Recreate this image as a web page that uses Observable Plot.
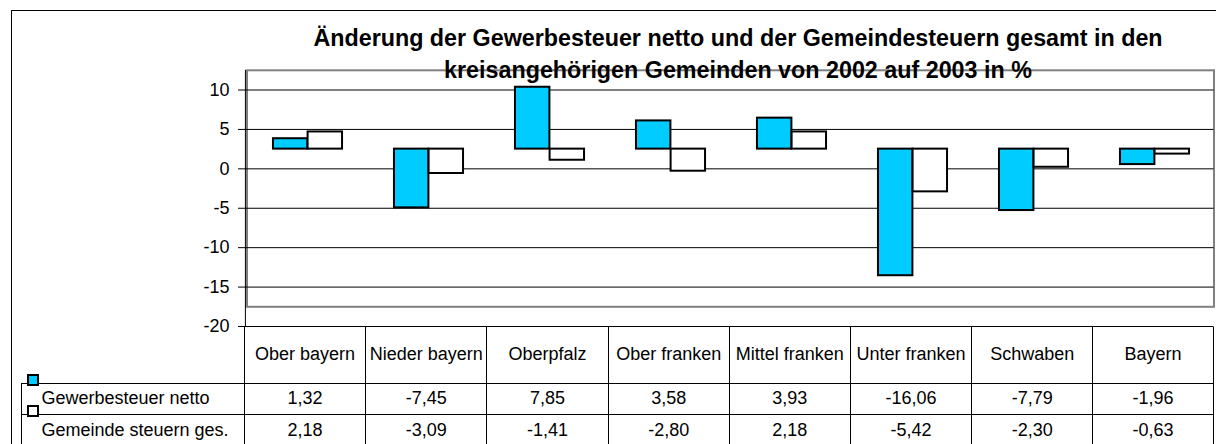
<!DOCTYPE html>
<html><head><meta charset="utf-8">
<script src="https://cdn.jsdelivr.net/npm/d3@7"></script>
<script src="https://cdn.jsdelivr.net/npm/@observablehq/plot@0.6"></script>
<style>
body{margin:0;background:#fff;}
#wrap{position:relative;width:1216px;height:444px;overflow:hidden;background:#fff;font-family:Arial,"Liberation Sans",sans-serif;color:#000;}
#chart{position:absolute;left:0;top:0;}
#border{position:absolute;left:11px;top:10px;width:1400px;height:600px;border-top:1px solid #000;border-left:1px solid #000;pointer-events:none;}
.title{position:absolute;left:738px;transform:translateX(-50%);white-space:nowrap;font-weight:bold;font-size:23.3px;line-height:23.3px;}
#table{position:absolute;left:20.5px;top:326.5px;display:grid;font-size:18px;}
#table div.cell{box-sizing:border-box;display:flex;align-items:center;justify-content:center;white-space:nowrap;position:relative;}
#table div.lab{justify-content:flex-start;padding-left:20px;}
.key{position:absolute;left:5.5px;top:-10px;width:12px;height:12px;box-sizing:border-box;border:2px solid #000;}
</style></head><body>
<div id="wrap">
  <div id="chart"></div>
  <div class="title" style="top:27px">Änderung der Gewerbesteuer netto und der Gemeindesteuern gesamt in den</div>
  <div class="title" style="top:59.3px">kreisangehörigen Gemeinden von 2002 auf 2003 in %</div>
  <div id="table"></div>
  <div id="border"></div>
</div>
<script>
const categories = ["Ober bayern", "Nieder bayern", "Oberpfalz", "Ober franken", "Mittel franken", "Unter franken", "Schwaben", "Bayern"];
const seriesNames = ["Gewerbesteuer netto", "Gemeinde steuern ges."];
const gewerbesteuer = [1.32, -7.45, 7.85, 3.58, 3.93, -16.06, -7.79, -1.96];
const gemeindesteuern = [2.18, -3.09, -1.41, -2.80, 2.18, -5.42, -2.30, -0.63];
const yTicks = [10, 5, 0, -5, -10, -15, -20];
const seriesColors = ["#00CCFF", "#FFFFFF"];

const W = 1216, H = 340, mL = 244, mR = 2.5, mT = 69.8, mB = 14;
const yDomain = [-20, 12.5];
const barBaseline = 2.5;           // the bars are drawn from this offset, as in the original
const bw = (W - mL - mR) / categories.length;
const barW = bw / 3.5, outer = barW * 0.75, shift = 2;
const unit = (H - mT - mB) / (yDomain[1] - yDomain[0]);

const rows = categories.map((c, i) => ({category: c, a: gewerbesteuer[i], b: gemeindesteuern[i]}));

const chart = Plot.plot({
  width: W, height: H,
  marginLeft: mL, marginRight: mR, marginTop: mT, marginBottom: mB,
  style: {fontFamily: 'Arial, "Liberation Sans", sans-serif', fontSize: "18px", color: "#000", background: "transparent", overflow: "visible"},
  x: {domain: categories, padding: 0, axis: null},
  y: {domain: yDomain, axis: null},
  marks: [
    Plot.frame({stroke: "#808080", strokeWidth: 2, insetLeft: 2.5, insetBottom: 2.5 * unit}),
    Plot.ruleY(yTicks.filter(t => t > -20), {stroke: "#000", strokeWidth: 1}),
    Plot.ruleY([-20], {stroke: "#000", strokeWidth: 1}),
    Plot.ruleX([categories[0]], {x: d => d, dx: -bw / 2, y1: -20, y2: yDomain[1], stroke: "#000"}),
    Plot.axisY({ticks: yTicks, tickSize: 6, tickPadding: 9, fontSize: 18, tickFormat: d => String(d), stroke: "#000"}),
    Plot.barY(rows, {x: "category", y1: () => barBaseline, y2: d => barBaseline + d.a,
      fill: seriesColors[0], stroke: "#000", strokeWidth: 2,
      insetLeft: outer + shift, insetRight: bw - outer - barW - shift}),
    Plot.barY(rows, {x: "category", y1: () => barBaseline, y2: d => barBaseline + d.b,
      fill: seriesColors[1], stroke: "#000", strokeWidth: 2,
      insetLeft: outer + barW + shift, insetRight: outer - shift})
  ]
});
document.getElementById("chart").appendChild(chart);

// data table below the chart
const fmt = v => v.toFixed(2).replace(".", ",");
const table = document.getElementById("table");
const firstCol = mL - 20.5;
table.style.gridTemplateColumns = `${firstCol}px repeat(${categories.length}, ${bw}px)`;
table.style.gridTemplateRows = `56.2px 31.3px 31.3px`;
const line = "1px solid #000";
function cell(text, styles, cls) {
  const d = document.createElement("div");
  d.className = "cell" + (cls ? " " + cls : "");
  if (text != null) d.appendChild(document.createTextNode(text));
  Object.assign(d.style, styles);
  table.appendChild(d);
  return d;
}
cell(null, {});
categories.forEach((c, i) => cell(c, {borderLeft: line, borderRight: i === categories.length - 1 ? line : "none"}));
[gewerbesteuer, gemeindesteuern].forEach((vals, r) => {
  const lab = cell(null, {borderLeft: line, borderTop: line}, "lab");
  const key = document.createElement("span");
  key.className = "key";
  key.style.background = seriesColors[r];
  lab.appendChild(key);
  lab.appendChild(document.createTextNode(seriesNames[r]));
  vals.forEach((v, i) => cell(fmt(v), {borderLeft: line, borderTop: line, borderRight: i === vals.length - 1 ? line : "none"}));
});
</script>
</body></html>
